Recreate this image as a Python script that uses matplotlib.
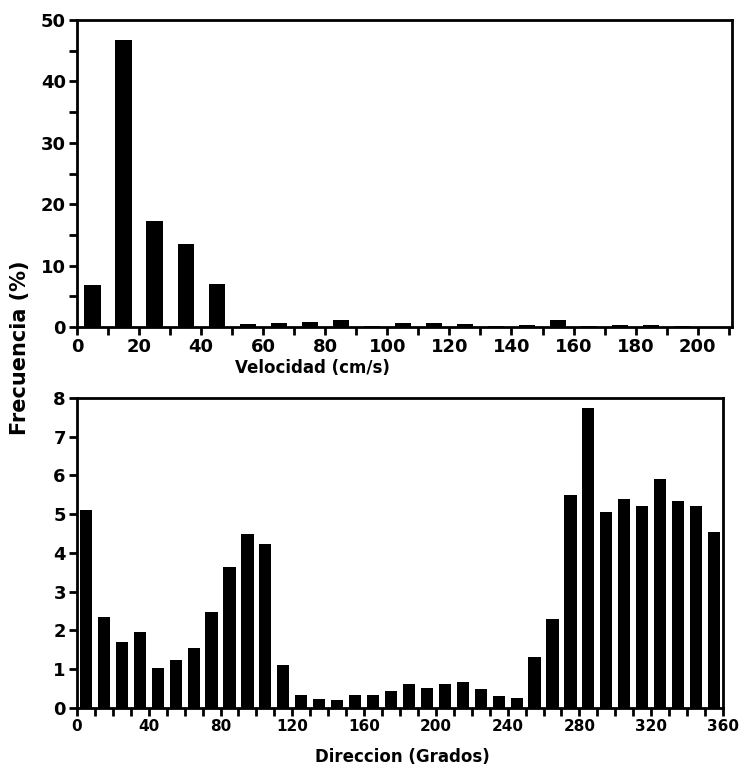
import matplotlib
matplotlib.use("Agg")
import matplotlib.pyplot as plt
import numpy as np

# Top chart: velocity histogram
vel_centers = [5, 15, 25, 35, 45, 55, 65, 75, 85, 95, 105, 115, 125, 135, 145,
               155, 165, 175, 185, 195]
vel_freq = [6.8, 46.7, 17.2, 13.5, 7.0, 0.5, 0.6, 0.8, 1.1, 0.2, 0.7, 0.7, 0.5,
            0.2, 0.4, 1.1, 0.2, 0.4, 0.3, 0.1]
vel_ticks = [0, 20, 40, 60, 80, 100, 120, 140, 160, 180, 200]

# Bottom chart: direction histogram
dir_centers = [5, 15, 25, 35, 45, 55, 65, 75, 85, 95, 105, 115, 125, 135, 145,
               155, 165, 175, 185, 195, 205, 215, 225, 235, 245, 255, 265, 275,
               285, 295, 305, 315, 325, 335, 345, 355]
dir_freq = [5.1, 2.35, 1.7, 1.97, 1.03, 1.23, 1.55, 2.48, 3.65, 4.5, 4.22, 1.1,
            0.33, 0.22, 0.2, 0.33, 0.33, 0.45, 0.63, 0.52, 0.62, 0.68, 0.5,
            0.3, 0.27, 1.32, 2.3, 5.5, 7.75, 5.05, 5.4, 5.22, 5.9, 5.35, 5.22,
            4.55]
dir_ticks = [0, 40, 80, 120, 160, 200, 240, 280, 320, 360]

plt.rcParams['font.family'] = ['DejaVu Sans']
plt.rcParams['font.weight'] = 'bold'

fig = plt.figure(figsize=(7.4, 7.72), dpi=100)
ax1 = fig.add_axes([0.104, 0.5764, 0.885, 0.3977])
ax2 = fig.add_axes([0.104, 0.0829, 0.873, 0.4016])

ax1.bar(vel_centers, vel_freq, width=5.2, color='black')
ax1.set_xlim(0, 211)
ax1.set_ylim(0, 50)
ax1.set_xticks(vel_ticks)
ax1.set_xticks(np.arange(0, 211, 10), minor=True)
ax1.set_yticks([0, 10, 20, 30, 40, 50])
ax1.set_yticks(np.arange(0, 51, 5), minor=True)

ax2.bar(dir_centers, dir_freq, width=6.8, color='black')
ax2.set_xlim(0, 360)
ax2.set_ylim(0, 8)
ax2.set_xticks(dir_ticks)
ax2.set_xticks(np.arange(0, 361, 10), minor=True)
ax2.set_yticks(range(0, 9))

for ax, xs in ((ax1, 13), (ax2, 11)):
    for s in ax.spines.values():
        s.set_linewidth(2)
    ax.tick_params(axis='both', which='both', direction='out', width=2, color='black')
    ax.tick_params(axis='both', which='major', length=6)
    ax.tick_params(axis='both', which='minor', length=6)
    ax.tick_params(axis='x', labelsize=xs, pad=2)
    ax.tick_params(axis='y', labelsize=13, pad=2)
    for lab in ax.get_xticklabels() + ax.get_yticklabels():
        lab.set_fontweight('bold')

fig.text(312 / 740, 1 - 368 / 772, 'Velocidad (cm/s)', fontsize=12,
         fontweight='bold', ha='center', va='center')
fig.text(402 / 740, 1 - 757 / 772, 'Direccion (Grados)', fontsize=12,
         fontweight='bold', ha='center', va='center')
fig.text(0.027, 1 - 348 / 772, 'Frecuencia (%)', rotation=90, fontsize=15,
         fontweight='bold', ha='center', va='center')

fig.savefig('out.png', dpi=100, facecolor='white')
